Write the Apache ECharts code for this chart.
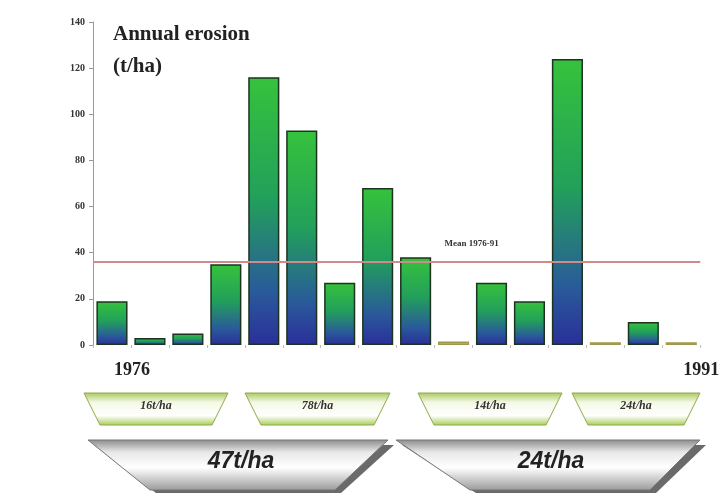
<!DOCTYPE html>
<html><head><meta charset="utf-8">
<script src="https://cdn.jsdelivr.net/npm/echarts@6/dist/echarts.min.js"></script>
<style>html,body{margin:0;padding:0;background:#fff}#c{width:722px;height:500px}</style>
</head><body><div id="c"></div>
<script>
const years = ['1976','1977','1978','1979','1980','1981','1982','1983','1984','1985','1986','1987','1988','1989','1990','1991'];
const erosion = [19, 3, 5, 35, 116, 93, 27, 68, 38, 1.5, 27, 19, 124, 1.2, 10, 1.2];
const meanValue = 36;
const meanLabel = 'Mean 1976-91';
const yTicks = [0, 20, 40, 60, 80, 100, 120, 140];
const periodLabels = ['16t/ha', '78t/ha', '14t/ha', '24t/ha'];
const phaseLabels = ['47t/ha', '24t/ha'];

const serif = '"Liberation Serif","DejaVu Serif",serif';
const greenBlue = {type:'linear',x:0,y:0,x2:0,y2:1,colorStops:[{offset:0,color:'#36c23c'},{offset:0.45,color:'#22a05a'},{offset:0.8,color:'#2a5a9a'},{offset:1,color:'#2a2f9a'}]};
const yellowish = {type:'linear',x:0,y:0,x2:0,y2:1,colorStops:[{offset:0,color:'#e6e08a'},{offset:1,color:'#a8a040'}]};

const barData = erosion.map(v => ({value: v, itemStyle: {color: v < 2 ? yellowish : greenBlue, borderColor: v < 2 ? '#a09a50' : '#1c3320'}}));

const chart = echarts.init(document.getElementById('c'));

function smallTrap(x1, x2, label) {
  const y1 = 393, y2 = 425, inset = 16;
  return [{
    type: 'polygon',
    shape: {points: [[x1, y1], [x2, y1], [x2 - inset, y2], [x1 + inset, y2]]},
    style: {fill: {type:'linear',x:0,y:0,x2:0,y2:1,colorStops:[{offset:0,color:'#a9c85a'},{offset:0.3,color:'#f4f8e6'},{offset:0.7,color:'#ffffff'},{offset:1,color:'#a6cc55'}]}, stroke: '#8fa84a', lineWidth: 1}
  }, {
    type: 'text', x: (x1 + x2) / 2, y: 406,
    style: {text: label, font: 'italic bold 12px ' + serif, fill: '#333', align: 'center', verticalAlign: 'middle'}
  }];
}
function bigTrap(x1, x2, bl, br, label) {
  const y1 = 440, y2 = 490;
  return [{
    type: 'polygon',
    shape: {points: [[x1 + 6, y1 + 5], [x2 + 6, y1 + 5], [br + 6, y2 + 3], [bl + 6, y2 + 3]]},
    style: {fill: '#6a6a6a'}
  }, {
    type: 'polygon',
    shape: {points: [[x1, y1], [x2, y1], [br, y2], [bl, y2]]},
    style: {fill: {type:'linear',x:0,y:0,x2:0,y2:1,colorStops:[{offset:0,color:'#8a8a8a'},{offset:0.25,color:'#e8e8e8'},{offset:0.55,color:'#ffffff'},{offset:1,color:'#9a9a9a'}]}, stroke: '#777', lineWidth: 1}
  }, {
    type: 'text', x: (x1 + x2) / 2 + 3, y: 462,
    style: {text: label, font: 'italic bold 23px "Liberation Sans",Arial,sans-serif', fill: '#222', align: 'center', verticalAlign: 'middle'}
  }];
}

const graphics = [].concat(
  smallTrap(84, 228, periodLabels[0]),
  smallTrap(245, 390, periodLabels[1]),
  smallTrap(418, 562, periodLabels[2]),
  smallTrap(572, 700, periodLabels[3]),
  bigTrap(88, 388, 150, 335, phaseLabels[0]),
  bigTrap(396, 700, 470, 650, phaseLabels[1]),
  [{type: 'text', left: 113, top: 19, style: {text: 'Annual erosion\n(t/ha)', font: 'bold 21px ' + serif, fill: '#222', lineHeight: 32}}]
);

chart.setOption({
  animation: false,
  backgroundColor: '#fff',
  grid: {left: 93, right: 13, top: 22, bottom: 155},
  xAxis: {
    type: 'category', data: years,
    axisLine: {show: false},
    axisTick: {show: true, alignWithLabel: false, length: 3, lineStyle: {color: '#bbb'}},
    axisLabel: {
      interval: 0, margin: 16,
      formatter: (v, i) => (i === 0 || i === years.length - 1) ? v : '',
      fontFamily: serif, fontWeight: 'bold', fontSize: 18, color: '#222',
      padding: [0, 0, 0, 40]
    }
  },
  yAxis: {
    type: 'value', min: 0, max: 140, interval: 20,
    axisLine: {show: true, lineStyle: {color: '#999'}},
    axisTick: {show: true, length: 4, lineStyle: {color: '#999'}},
    splitLine: {show: false},
    axisLabel: {margin: 8, fontFamily: serif, fontWeight: 'bold', fontSize: 10, color: '#333',
      formatter: v => yTicks.includes(v) ? String(v) : ''}
  },
  series: [{
    type: 'bar', data: barData, barCategoryGap: '18%',
    itemStyle: {borderWidth: 1.5},
    markLine: {
      symbol: 'none', silent: true,
      lineStyle: {color: '#d08a8a', width: 2, type: 'solid'},
      label: {show: true, position: 'insideMiddleTop', formatter: meanLabel, distance: 14,
        fontFamily: serif, fontWeight: 'bold', fontSize: 9, color: '#333', padding: [0, 0, 0, 150]},
      data: [{yAxis: meanValue}]
    }
  }],
  graphic: graphics
});
</script></body></html>
